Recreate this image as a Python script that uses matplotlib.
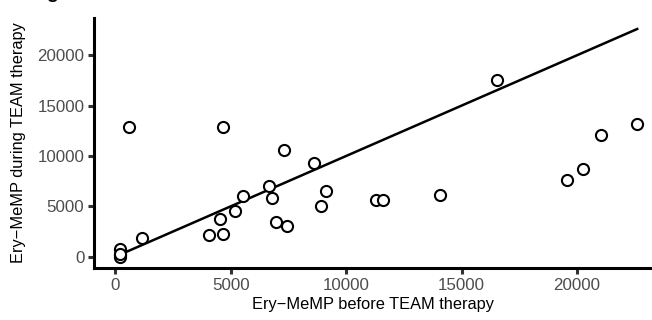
import numpy as np
import matplotlib
matplotlib.use('Agg')
import matplotlib.pyplot as plt

# Ery-MeMP values
before = [200, 200, 200, 200, 1150, 600, 4680, 7290, 8590, 6640, 6810, 5555,
          5180, 4545, 4080, 4660, 6970, 7430, 9120, 8900, 11300, 11590,
          14070, 16550, 19580, 20250, 21050, 22610]
during = [800, 150, 0, 250, 1850, 12850, 12900, 10600, 9310, 6990, 5800, 6060,
          4570, 3750, 2190, 2250, 3410, 3010, 6490, 5070, 5670, 5600,
          6160, 17530, 7590, 8720, 12130, 13220]

xticks = [0, 5000, 10000, 15000, 20000]
yticks = [0, 5000, 10000, 15000, 20000]

plt.rcParams['font.family'] = ['Liberation Sans', 'DejaVu Sans']

fig = plt.figure(figsize=(6.52, 3.2), dpi=100)
ax = fig.add_axes([94/652, 52/320, 1 - 94/652, (268 - 18)/320])

# line of identity over the data range
lo, hi = min(before), max(before)
ax.plot([lo, hi], [lo, hi], color='black', lw=1.8, zorder=2)
ax.plot(before, during, 'o', mfc='white', mec='black', mew=1.5, ms=8, zorder=3)

ax.set_xlim(-920, 23250)
ax.set_ylim(-1120, 23700)
ax.set_xticks(xticks)
ax.set_yticks(yticks)
ax.tick_params(length=4, width=2.2, color='#333333', labelcolor='#4D4D4D',
               labelsize=12.2, pad=3)
for s in ['top', 'right']:
    ax.spines[s].set_visible(False)
for s in ['left', 'bottom']:
    ax.spines[s].set_linewidth(2.2)

ax.set_xlabel('Ery\u2212MeMP before TEAM therapy', fontsize=11.8, labelpad=3)
ax.set_ylabel('Ery\u2212MeMP during TEAM therapy', fontsize=11.8, labelpad=8)

# panel letter cut off at the top edge (as in the reference)
fig.text(46/652, 1 + 2/320, 'g', fontsize=14, fontweight='bold', va='baseline')

fig.savefig('out.png', dpi=100)
